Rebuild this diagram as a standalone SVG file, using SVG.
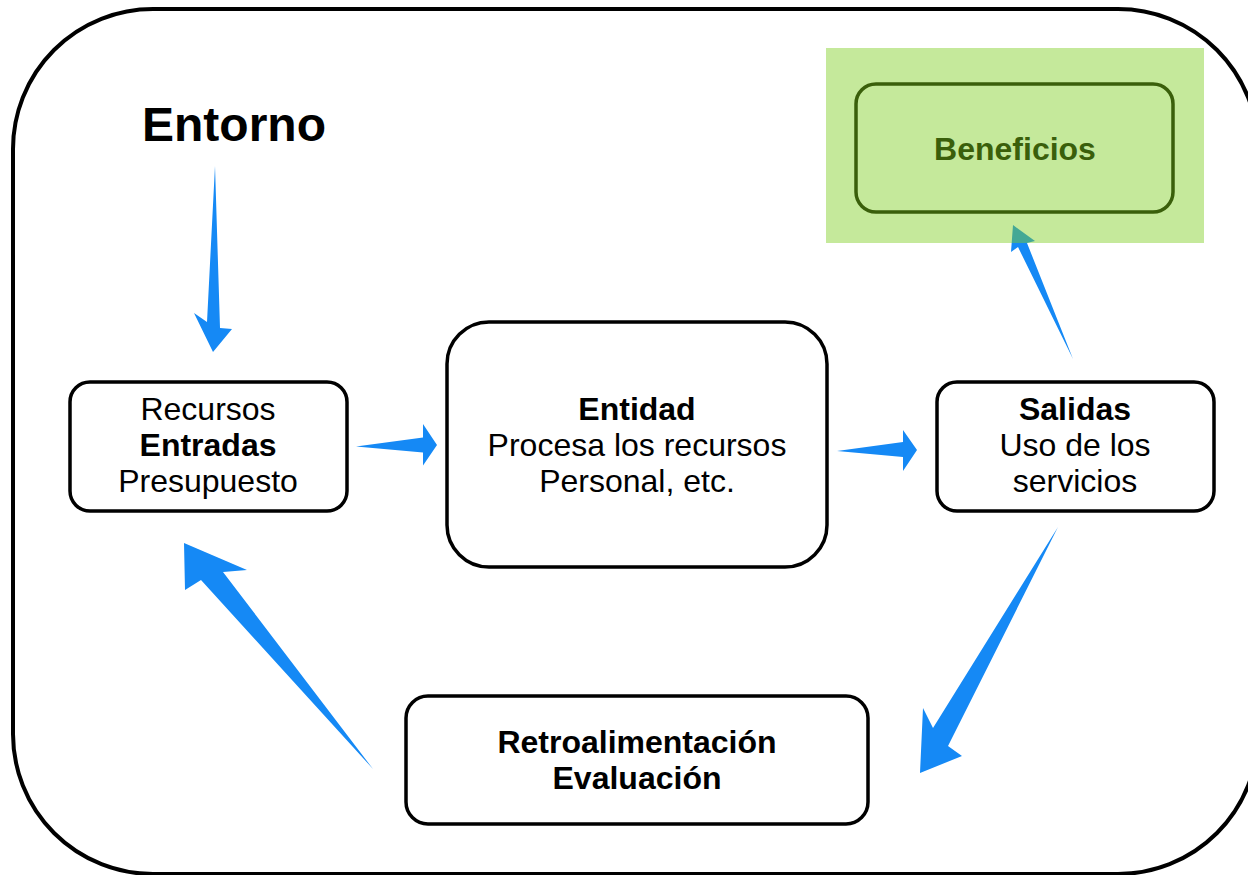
<svg xmlns="http://www.w3.org/2000/svg" width="1248" height="875" viewBox="0 0 1248 875">
<style>
.box{fill:#ffffff;stroke:#000000;stroke-width:3.5}
.t{font-family:"Liberation Sans",Arial,sans-serif;font-size:32px;fill:#000000;text-anchor:middle}
.b{font-weight:bold}
.arr{fill:#1589f5}
</style>
<rect x="0" y="0" width="1248" height="875" fill="#ffffff"/>
<g id="entorno">
<rect x="13" y="9" width="1245" height="865" rx="140" ry="140" fill="#ffffff" stroke="#000000" stroke-width="4"/>
<text x="234" y="141" class="t b" style="font-size:48px">Entorno</text>
</g>
<g id="connectors">
<polygon class="arr" points="215,166 220,328 232,329 213,352 194,313 207,322"/>
<polygon class="arr" points="356,446.5 423,437.5 423,424 437,445 423,465.5 423,452.5"/>
<polygon class="arr" points="837,451 903,442 903,430 917,450 903,471 903,457"/>
<polygon class="arr" points="1073,359 1027,243 1035,241 1013,225 1011,252 1018,247"/>
<polygon class="arr" points="1058,527 948,746 962,756 920,773 923,708 933,728"/>
<polygon class="arr" points="373,769 201,580 185,590 184,543 247,570 223,572"/>
</g>
<g id="recursos">
<rect class="box" x="70" y="382" width="277" height="129" rx="20"/>
<text class="t" x="208" y="420">Recursos</text>
<text class="t b" x="208" y="456">Entradas</text>
<text class="t" x="208" y="492">Presupuesto</text>
</g>
<g id="entidad">
<rect class="box" x="447" y="322" width="380" height="245" rx="42"/>
<text class="t b" x="637" y="420">Entidad</text>
<text class="t" x="637" y="456">Procesa los recursos</text>
<text class="t" x="637" y="492">Personal, etc.</text>
</g>
<g id="salidas">
<rect class="box" x="937" y="382" width="277" height="129" rx="20"/>
<text class="t b" x="1075" y="420">Salidas</text>
<text class="t" x="1075" y="456">Uso de los</text>
<text class="t" x="1075" y="492">servicios</text>
</g>
<g id="retroalimentacion">
<rect class="box" x="406" y="696" width="462" height="128" rx="22"/>
<text class="t b" x="637" y="753">Retroalimentación</text>
<text class="t b" x="637" y="789">Evaluación</text>
</g>
<g id="beneficios">
<rect x="826" y="48" width="378" height="195" fill="#7fce21" fill-opacity="0.45"/>
<rect x="856" y="84" width="317" height="128" rx="20" fill="none" stroke="#3a5f0b" stroke-width="3.5"/>
<text class="t b" x="1015" y="160" style="fill:#3a5f0b">Beneficios</text>
</g>
</svg>
